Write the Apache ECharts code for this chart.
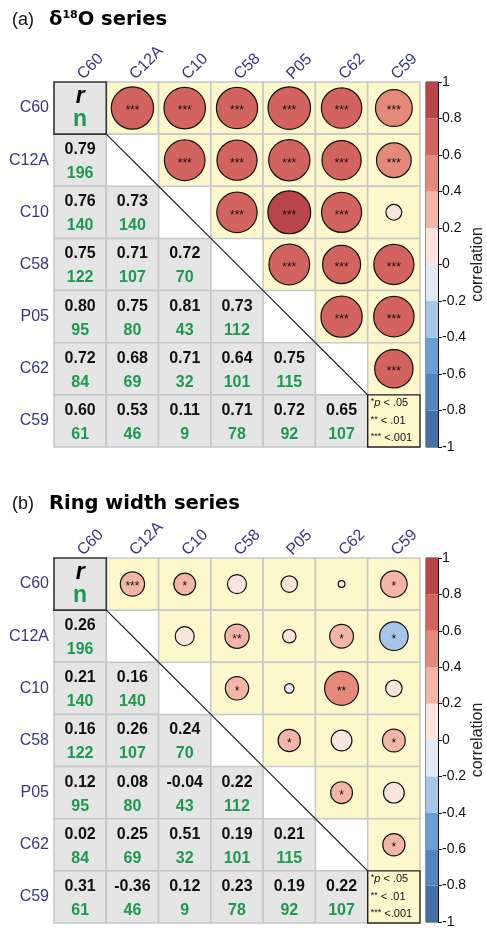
<!DOCTYPE html>
<html>
<head>
<meta charset="utf-8">
<script src="https://cdn.jsdelivr.net/npm/echarts/dist/echarts.min.js"></script>
<style>
  html, body { margin: 0; padding: 0; background: #fff; }
  #chart { width: 487px; height: 929px; }
</style>
</head>
<body>
<div id="chart"></div>
<script>
// ---------- data ----------
const labels = ['C60', 'C12A', 'C10', 'C58', 'P05', 'C62', 'C59'];

// (a) δ18O series – lower triangle, row i vs column j (j < i)
const rA = [
  [],
  [0.79],
  [0.76, 0.73],
  [0.75, 0.71, 0.72],
  [0.798, 0.75, 0.81, 0.73],
  [0.72, 0.68, 0.71, 0.64, 0.75],
  [0.598, 0.53, 0.11, 0.71, 0.72, 0.65]
];
const nA = [
  [],
  [196],
  [140, 140],
  [122, 107, 70],
  [95, 80, 43, 112],
  [84, 69, 32, 101, 115],
  [61, 46, 9, 78, 92, 107]
];
const sigA = [
  [],
  ['***'],
  ['***', '***'],
  ['***', '***', '***'],
  ['***', '***', '***', '***'],
  ['***', '***', '***', '***', '***'],
  ['***', '***', '', '***', '***', '***']
];

// (b) Ring width series
const rB = [
  [],
  [0.26],
  [0.21, 0.16],
  [0.16, 0.26, 0.24],
  [0.12, 0.08, -0.04, 0.22],
  [0.02, 0.25, 0.51, 0.19, 0.21],
  [0.31, -0.36, 0.12, 0.23, 0.19, 0.22]
];
const nB = [
  [],
  [196],
  [140, 140],
  [122, 107, 70],
  [95, 80, 43, 112],
  [84, 69, 32, 101, 115],
  [61, 46, 9, 78, 92, 107]
];
const sigB = [
  [],
  ['***'],
  ['*', ''],
  ['', '**', '*'],
  ['', '', '', '*'],
  ['', '*', '**', '', '*'],
  ['*', '*', '', '*', '', '*']
];

// colour scale bands
const bandLower = [-1, -0.8, -0.6, -0.4, -0.2, 0, 0.2, 0.4, 0.6, 0.8];
const bandColors = ['#466FA6', '#5585BE', '#6A9FD4', '#A6C5E8', '#DFEAF5',
                    '#FDE5DF', '#F2B5A8', '#E5897B', '#D2635E', '#B94449'];
const legendLines = [['*', 'p', ' < .05'], ['**', '', ' < .01'], ['***', '', ' <.001']];

// ---------- helpers ----------
const FONT = '"Liberation Sans", Arial, Helvetica, sans-serif';
const AXIS_COLOR = '#35368F';
const GREEN = '#1E9A4C';

function colorFor(r) {
  for (let i = bandLower.length - 1; i >= 0; i--) {
    if (r >= bandLower[i]) return bandColors[i];
  }
  return bandColors[0];
}

function cellData() {
  const off = [], diag = [];
  for (let i = 0; i < labels.length; i++) {
    for (let j = 0; j < labels.length; j++) {
      if (i === j) diag.push([j, i]); else off.push([j, i]);
    }
  }
  return off.concat(diag);
}

function cellRenderer(rM, nM, sM) {
  const last = labels.length - 1;
  return function (params, api) {
    const col = api.value(0), row = api.value(1);
    const c = api.coord([col, row]);
    const sz = api.size([1, 1]);
    const w = sz[0], h = sz[1];
    const x0 = c[0] - w / 2, y0 = c[1] - h / 2;
    const kids = [];
    if (row === col) {
      if (row === 0) {
        kids.push({ type: 'rect', shape: { x: x0, y: y0, width: w, height: h },
          style: { fill: '#E5E5E5', stroke: '#333', lineWidth: 1.6 } });
        kids.push({ type: 'text', style: { text: 'r', x: c[0], y: c[1] - 11, align: 'center', verticalAlign: 'middle',
          fill: '#000', fontSize: 23, fontWeight: 'bold', fontStyle: 'italic', fontFamily: FONT } });
        kids.push({ type: 'text', style: { text: 'n', x: c[0], y: c[1] + 12, align: 'center', verticalAlign: 'middle',
          fill: GREEN, fontSize: 23, fontWeight: 'bold', fontFamily: FONT } });
      } else if (row === last) {
        kids.push({ type: 'rect', shape: { x: x0, y: y0, width: w, height: h },
          style: { fill: '#FDF8CC', stroke: '#222', lineWidth: 1.4 } });
        legendLines.forEach(function (ln, k) {
          kids.push({ type: 'text', style: {
            text: '{s|' + ln[0] + '}' + (ln[1] ? '{i|' + ln[1] + '}' : '') + '{t|' + ln[2] + '}',
            x: x0 + 3, y: c[1] + (k - 1) * 17.5, align: 'left', verticalAlign: 'middle',
            rich: {
              s: { fontSize: 9, fontFamily: FONT, fill: '#111', padding: [0, 0, 3, 0] },
              i: { fontSize: 11, fontFamily: FONT, fontStyle: 'italic', fill: '#111' },
              t: { fontSize: 11, fontFamily: FONT, fill: '#111' }
            } } });
        });
      } else {
        kids.push({ type: 'line', shape: { x1: x0, y1: y0, x2: x0 + w, y2: y0 + h },
          style: { stroke: '#222', lineWidth: 1.2 } });
      }
    } else if (row > col) {
      const r = rM[row][col], n = nM[row][col];
      kids.push({ type: 'rect', shape: { x: x0, y: y0, width: w, height: h },
        style: { fill: '#E5E5E5', stroke: '#C8C8C8', lineWidth: 1.6 } });
      kids.push({ type: 'text', style: { text: r.toFixed(2), x: c[0], y: c[1] - 10.5, align: 'center', verticalAlign: 'middle',
        fill: '#111', fontSize: 16, fontWeight: 'bold', fontFamily: FONT } });
      kids.push({ type: 'text', style: { text: String(n), x: c[0], y: c[1] + 13.5, align: 'center', verticalAlign: 'middle',
        fill: GREEN, fontSize: 16, fontWeight: 'bold', fontFamily: FONT } });
    } else {
      const r = rM[col][row], s = sM[col][row];
      kids.push({ type: 'rect', shape: { x: x0, y: y0, width: w, height: h },
        style: { fill: '#FDF8CC', stroke: '#C8C8C8', lineWidth: 1.6 } });
      kids.push({ type: 'circle', shape: { cx: c[0], cy: c[1], r: 0.455 * w * Math.sqrt(Math.abs(r)) },
        style: { fill: colorFor(r), stroke: '#111', lineWidth: 1.2 } });
      if (s) {
        kids.push({ type: 'text', style: { text: s, x: c[0], y: c[1] + 3, align: 'center', verticalAlign: 'middle',
          fill: '#111', fontSize: 12, fontFamily: FONT } });
      }
    }
    return { type: 'group', children: kids };
  };
}

function barRenderer(params, api) {
  const lo = api.value(1), hi = api.value(2);
  const top = api.coord([0, hi]);
  const bot = api.coord([0, lo]);
  const w = api.size([1, 0])[0];
  return { type: 'rect', shape: { x: top[0] - w / 2, y: top[1], width: w, height: bot[1] - top[1] },
    style: { fill: bandColors[api.value(3)] } };
}
const barData = bandLower.map(function (lo, i) { return [0, lo, lo + 0.2, i]; });

// ---------- layout ----------
const panels = [
  { top: 82, title: '{p|(a)}{b|δ}{s|18}{b|O series}', titleTop: 10, r: rA, n: nA, s: sigA },
  { top: 558, title: '{p|(b)}{b|Ring width series}', titleTop: 494, r: rB, n: nB, s: sigB }
];

const option = { animation: false, title: [], grid: [], xAxis: [], yAxis: [], series: [] };
panels.forEach(function (p, k) {
  option.title.push({
    left: 12, top: p.titleTop, padding: 0, text: p.title,
    textStyle: { rich: {
      p: { fontSize: 18, fontWeight: 'normal', fontFamily: FONT, color: '#111', width: 37 },
      b: { fontSize: 19.5, fontWeight: 'bold', fontFamily: '"DejaVu Sans", sans-serif', color: '#000' },
      s: { fontSize: 11, fontWeight: 'bold', fontFamily: '"DejaVu Sans", sans-serif', color: '#000', verticalAlign: 'top' }
    } }
  });
  // matrix grid
  option.grid.push({ left: 54, top: p.top, width: 366, height: 365 });
  option.xAxis.push({ gridIndex: 2 * k, type: 'category', data: labels, position: 'top',
    axisLine: { show: false }, axisTick: { show: false }, splitLine: { show: false },
    axisLabel: { rotate: -45, margin: 5, color: AXIS_COLOR, fontSize: 16, fontFamily: FONT } });
  option.yAxis.push({ gridIndex: 2 * k, type: 'category', data: labels, inverse: true,
    axisLine: { show: false }, axisTick: { show: false }, splitLine: { show: false },
    axisLabel: { margin: 5, color: AXIS_COLOR, fontSize: 16, fontFamily: FONT } });
  // colour bar grid
  option.grid.push({ left: 426, top: p.top, width: 12, height: 365, show: true,
    borderColor: '#222', borderWidth: 1, backgroundColor: 'transparent' });
  option.xAxis.push({ gridIndex: 2 * k + 1, type: 'category', data: ['bar'], show: false });
  option.yAxis.push({ gridIndex: 2 * k + 1, type: 'value', position: 'right', min: -1, max: 1, interval: 0.2,
    axisLine: { show: true, lineStyle: { color: '#111', width: 1 } },
    axisTick: { show: true, length: 4, lineStyle: { color: '#111' } },
    splitLine: { show: false },
    axisLabel: { margin: 4, color: '#111', fontSize: 14, fontFamily: FONT },
    name: 'correlation', nameLocation: 'middle', nameRotate: 90, nameGap: 31,
    nameTextStyle: { color: '#222', fontSize: 16, fontFamily: FONT } });

  option.series.push({ type: 'custom', xAxisIndex: 2 * k, yAxisIndex: 2 * k,
    data: cellData(), renderItem: cellRenderer(p.r, p.n, p.s), silent: true });
  option.series.push({ type: 'custom', xAxisIndex: 2 * k + 1, yAxisIndex: 2 * k + 1,
    data: barData, renderItem: barRenderer, silent: true, z: 1 });
});

const chart = echarts.init(document.getElementById('chart'), null, { renderer: 'canvas' });
chart.setOption(option);
</script>
</body>
</html>
